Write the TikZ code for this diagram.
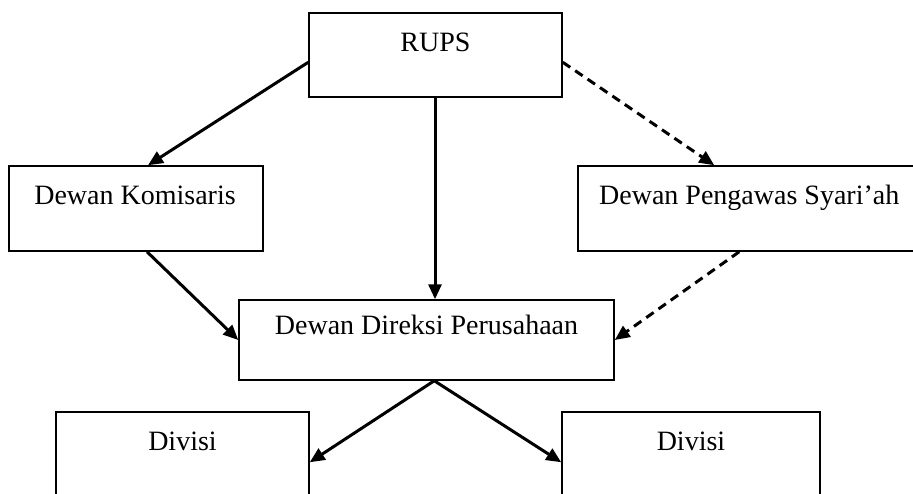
\documentclass[tikz,border=0pt]{standalone}
\usepackage{fontspec}
\setmainfont{Liberation Serif}
\usetikzlibrary{arrows.meta,calc}
\begin{document}
\begin{tikzpicture}[x=1pt,y=-1pt,
  boxnode/.style={draw=black, line width=1.5pt, rectangle, inner sep=0pt},
  lbl/.style={font=\fontsize{28}{30}\selectfont, inner sep=0pt, anchor=base},
  conn/.style={line width=3pt, -{Triangle[length=15pt,width=13pt]}},
  dconn/.style={conn, dash pattern=on 9pt off 6pt}]
\useasboundingbox (0,0) rectangle (913,493);
\clip (0,0) rectangle (913,493);
% boxes
\node[boxnode, minimum width=253pt, minimum height=84pt] (rups) at (435.5,55) {};
\node[boxnode, minimum width=254pt, minimum height=85pt] (kom) at (136,208.5) {};
\node[boxnode, minimum width=382pt, minimum height=85pt] (peng) at (769,208.5) {};
\node[boxnode, minimum width=375pt, minimum height=80pt] (dir) at (426.5,340) {};
\node[boxnode, minimum width=253pt, minimum height=120pt] (div1) at (182.5,472) {};
\node[boxnode, minimum width=258pt, minimum height=120pt] (div2) at (691,472) {};
% labels
\node[lbl] (trups) at ($(rups.north)+(0,39)$) {RUPS};
\node[lbl] (tkom) at ($(kom.north)+(-1,39)$) {Dewan Komisaris};
\node[lbl] (tpeng) at ($(peng.north west)+(172,39)$) {Dewan Pengawas Syari’ah};
\node[lbl] (tdir) at ($(dir.north)+(0,35)$) {Dewan Direksi Perusahaan};
\node[lbl] (tdiv1) at ($(div1.north)+(0,39)$) {Divisi};
\node[lbl] (tdiv2) at ($(div2.north)+(0,39)$) {Divisi};
% connectors
\draw[conn] ($(rups.north west)+(0,50)$) -- ($(kom.north)+(12,0)$);
\draw[conn] ($(rups.south)+(-0.5,0)$) -- ($(dir.north)+(8.5,0)$);
\draw[dconn] ($(rups.north east)+(0,50)$) -- ($(peng.north west)+(137,0)$);
\draw[conn] ($(kom.south)+(11,0)$) -- (dir.west);
\draw[dconn] ($(peng.south west)+(162,0)$) -- (dir.east);
\draw[conn] ($(dir.south west)+(196,0)$) -- ($(div1.north east)+(0,51)$);
\draw[conn] ($(dir.south west)+(196,0)$) -- ($(div2.north west)+(0,51)$);
\end{tikzpicture}
\end{document}
